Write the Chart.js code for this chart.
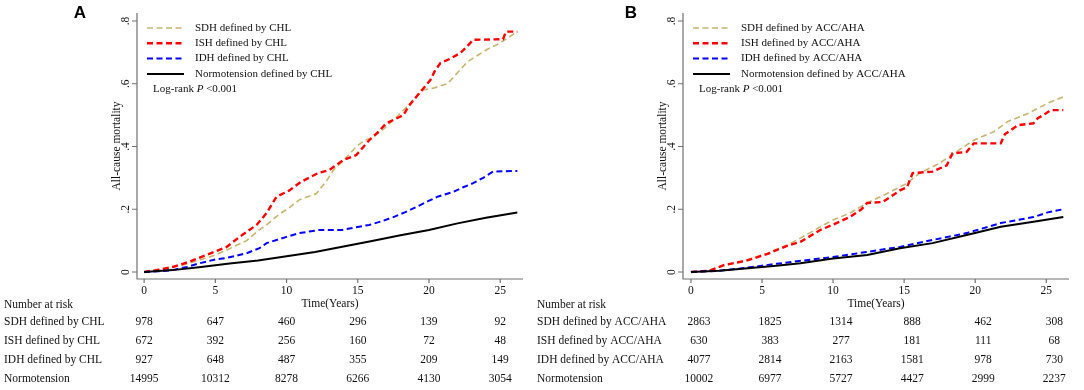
<!DOCTYPE html>
<html>
<head>
<meta charset="utf-8">
<script src="https://cdn.jsdelivr.net/npm/chart.js@4"></script>
<style>
  body { margin: 0; background: #fff; }
  #wrap { position: relative; width: 1084px; height: 390px; }
  canvas { position: absolute; top: 0; }
</style>
</head>
<body>
<div id="wrap">
  <canvas id="chartA" width="530" height="390" style="left:0"></canvas>
  <canvas id="chartB" width="554" height="390" style="left:530px"></canvas>
</div>
<script>
// ticks
const xTicks = [0, 5, 10, 15, 20, 25];
const yTicks = [0, 0.2, 0.4, 0.6, 0.8];
const yTickLabels = ['0', '.2', '.4', '.6', '.8'];

// panel A curves [years, mortality]
const sdhA = [[0,0],[0.8,0.008],[1.5,0.012],[2.7,0.022],[3.5,0.033],[4.4,0.045],[5.2,0.058],[5.8,0.07],[6.5,0.085],[7.2,0.10],[8.1,0.135],[8.6,0.15],[9.5,0.185],[10.2,0.205],[10.9,0.23],[11.5,0.24],[12.1,0.25],[12.8,0.29],[13.3,0.325],[14.1,0.36],[14.9,0.4],[15.5,0.42],[16.1,0.43],[16.8,0.455],[17.5,0.484],[18.3,0.52],[19.1,0.558],[19.6,0.58],[20.3,0.586],[21.3,0.6],[22.0,0.635],[22.7,0.67],[23.4,0.69],[24.1,0.71],[24.8,0.725],[25.5,0.745],[26.2,0.766]];
const ishA = [[0,0],[0.8,0.005],[2,0.016],[3.2,0.033],[4.4,0.055],[5.8,0.08],[6.7,0.112],[7.9,0.15],[8.6,0.188],[9.3,0.24],[10.2,0.26],[11.0,0.287],[12.2,0.315],[13.0,0.325],[14.0,0.357],[14.9,0.373],[15.8,0.42],[16.4,0.445],[17.0,0.474],[18.2,0.5],[18.6,0.53],[19.1,0.558],[19.6,0.585],[20.1,0.612],[20.4,0.64],[20.8,0.666],[21.5,0.68],[22.2,0.698],[22.7,0.72],[23.1,0.74],[25.2,0.742],[25.4,0.766],[26.2,0.766]];
const idhA = [[0,0],[1,0.002],[2,0.006],[3,0.016],[3.9,0.028],[5,0.04],[5.8,0.045],[6.5,0.052],[7.2,0.06],[8.1,0.076],[8.6,0.092],[9.3,0.102],[10,0.112],[10.9,0.124],[12.3,0.134],[13.9,0.134],[14.8,0.142],[15.8,0.15],[16.7,0.162],[17.5,0.175],[18.3,0.19],[19.1,0.207],[19.9,0.225],[20.6,0.24],[21.7,0.255],[22.4,0.27],[23.1,0.283],[23.8,0.3],[24.5,0.32],[26.2,0.322]];
const normA = [[0,0],[2,0.006],[4,0.016],[6,0.027],[8,0.037],[10,0.05],[12,0.064],[14,0.081],[16,0.099],[18,0.117],[20,0.134],[22,0.155],[24,0.173],[26.2,0.19]];

// panel B curves
const sdhB = [[0,0],[1.3,0.006],[2.3,0.02],[3.9,0.038],[5.4,0.06],[6.8,0.086],[7.7,0.108],[9.1,0.144],[10,0.166],[11.2,0.188],[12.4,0.22],[13.8,0.25],[15.2,0.283],[16.1,0.315],[17.5,0.347],[18.9,0.39],[19.9,0.42],[21.3,0.447],[22.3,0.48],[23.7,0.505],[25.1,0.538],[26.2,0.558]];
const ishB = [[0,0],[1.3,0.004],[2.3,0.022],[3.9,0.036],[5.4,0.058],[6.8,0.084],[7.7,0.096],[9.1,0.134],[10.2,0.155],[11.2,0.176],[12.0,0.2],[12.4,0.22],[13.5,0.223],[14.7,0.26],[15.2,0.27],[15.6,0.315],[17.0,0.32],[18.0,0.34],[18.4,0.378],[19.4,0.383],[19.9,0.41],[21.8,0.41],[22.1,0.44],[22.5,0.452],[23.0,0.468],[24.1,0.474],[24.4,0.49],[24.8,0.5],[25.3,0.516],[26.2,0.516]];
const idhB = [[0,0],[2,0.004],[4,0.014],[6,0.026],[8,0.037],[10,0.048],[12.4,0.064],[14.7,0.08],[17,0.102],[19.4,0.124],[21.8,0.156],[24.1,0.175],[25.1,0.19],[26.2,0.2]];
const normB = [[0,0],[2,0.004],[4,0.012],[6,0.02],[7.7,0.028],[10,0.043],[12.4,0.054],[14.7,0.076],[17,0.092],[19.4,0.118],[21.8,0.144],[24.1,0.16],[26.2,0.175]];

// legends and number at risk
const legendA = ['SDH defined by CHL', 'ISH defined by CHL', 'IDH defined by CHL', 'Normotension defined by CHL'];
const legendB = ['SDH defined by ACC/AHA', 'ISH defined by ACC/AHA', 'IDH defined by ACC/AHA', 'Normotension defined by ACC/AHA'];
const riskLabelsA = ['SDH defined by CHL', 'ISH defined by CHL', 'IDH defined by CHL', 'Normotension'];
const riskLabelsB = ['SDH defined by ACC/AHA', 'ISH defined by ACC/AHA', 'IDH defined by ACC/AHA', 'Normotension'];
const riskA = [
  [978, 647, 460, 296, 139, 92],
  [672, 392, 256, 160, 72, 48],
  [927, 648, 487, 355, 209, 149],
  [14995, 10312, 8278, 6266, 4130, 3054]
];
const riskB = [
  [2863, 1825, 1314, 888, 462, 308],
  [630, 383, 277, 181, 111, 68],
  [4077, 2814, 2163, 1581, 978, 730],
  [10002, 6977, 5727, 4427, 2999, 2237]
];

const SERIF = '"Liberation Serif", "Times New Roman", serif';

const styles = [
  { borderColor: '#c8b46e', borderWidth: 1.6, borderDash: [6, 3.5], order: 4 },
  { borderColor: '#ff0000', borderWidth: 2.4, borderDash: [6, 3.5], order: 3 },
  { borderColor: '#0000ff', borderWidth: 2, borderDash: [6, 3.5], order: 2 },
  { borderColor: '#000000', borderWidth: 2, borderDash: [], order: 1 }
];

function toXY(arr) {
  return arr.map(p => ({ x: p[0], y: p[1] }));
}

// axes, legend and risk table drawn in Stata style
const kmPlugin = {
  id: 'km',
  afterDraw(chart, args, o) {
    const ctx = chart.ctx;
    const xs = chart.scales.x, ys = chart.scales.y;
    const a = chart.chartArea;
    ctx.save();

    ctx.strokeStyle = '#707070';
    ctx.lineWidth = 1.2;
    ctx.setLineDash([]);
    ctx.beginPath();
    ctx.moveTo(a.left, a.top); ctx.lineTo(a.left, a.bottom); ctx.lineTo(a.right, a.bottom);
    yTicks.forEach(v => { const p = ys.getPixelForValue(v); ctx.moveTo(a.left - 5, p); ctx.lineTo(a.left, p); });
    xTicks.forEach(v => { const p = xs.getPixelForValue(v); ctx.moveTo(p, a.bottom); ctx.lineTo(p, a.bottom + 4); });
    ctx.stroke();

    ctx.fillStyle = '#111';
    ctx.font = '11.5px ' + SERIF;
    ctx.textBaseline = 'middle';
    ctx.textAlign = 'center';
    yTicks.forEach((v, i) => {
      ctx.save();
      ctx.translate(a.left - 11, ys.getPixelForValue(v));
      ctx.rotate(-Math.PI / 2);
      ctx.fillText(yTickLabels[i], 0, 0);
      ctx.restore();
    });
    ctx.save();
    ctx.translate(a.left - 20, (a.top + a.bottom) / 2);
    ctx.rotate(-Math.PI / 2);
    ctx.fillText('All-cause mortality', 0, 0);
    ctx.restore();

    xTicks.forEach(v => ctx.fillText(String(v), xs.getPixelForValue(v), a.bottom + 12));
    ctx.fillText('Time(Years)', (a.left + a.right) / 2, a.bottom + 25);

    // number at risk
    ctx.textAlign = 'left';
    ctx.fillText('Number at risk', o.tableX, 305);
    o.riskLabels.forEach((lab, r) => {
      const yy = 322 + r * 19;
      ctx.textAlign = 'left';
      ctx.fillText(lab, o.tableX, yy);
      ctx.textAlign = 'center';
      o.risk[r].forEach((n, i) => ctx.fillText(String(n), xs.getPixelForValue(xTicks[i]) + o.numShift, yy));
    });

    // legend
    ctx.font = '11px ' + SERIF;
    ctx.textAlign = 'left';
    chart.data.datasets.forEach((ds, i) => {
      const yy = a.top + 15 + i * 15.3;
      ctx.strokeStyle = ds.borderColor;
      ctx.lineWidth = ds.borderWidth;
      ctx.setLineDash(ds.borderDash);
      ctx.beginPath();
      ctx.moveTo(a.left + 10, yy); ctx.lineTo(a.left + 47, yy);
      ctx.stroke();
      ctx.fillText(ds.label, a.left + 58, yy);
    });
    let lx = a.left + 16;
    const ly = a.top + 76;
    ctx.fillText('Log-rank ', lx, ly);
    lx += ctx.measureText('Log-rank ').width;
    ctx.font = 'italic 11px ' + SERIF;
    ctx.fillText('P', lx, ly);
    lx += ctx.measureText('P').width;
    ctx.font = '11px ' + SERIF;
    ctx.fillText(' <0.001', lx, ly);

    ctx.font = 'bold 17px "Liberation Sans", Arial, sans-serif';
    ctx.textAlign = 'center';
    ctx.fillStyle = '#000';
    ctx.fillText(o.letter, o.letterX, 13);
    ctx.restore();
  }
};

function makeChart(id, series, labels, xmin, pad, km) {
  const config = {
    type: 'line',
    data: {
      datasets: series.map((s, i) => Object.assign({
        label: labels[i],
        data: toXY(s),
        pointRadius: 0,
        fill: false,
        tension: 0
      }, styles[i]))
    },
    options: {
      responsive: false,
      animation: false,
      devicePixelRatio: 1,
      layout: { padding: pad },
      scales: {
        x: { type: 'linear', min: xmin, max: 26.6, display: false },
        y: { type: 'linear', min: -0.0223, max: 0.8255, display: false }
      },
      plugins: {
        legend: { display: false },
        tooltip: { enabled: false },
        km: km
      }
    },
    plugins: [kmPlugin]
  };
  return new Chart(document.getElementById(id).getContext('2d'), config);
}

makeChart('chartA', [sdhA, ishA, idhA, normA], legendA, -0.5,
  { left: 137, right: 7, top: 13, bottom: 111 },
  { letter: 'A', letterX: 80, tableX: 4, numShift: 0, riskLabels: riskLabelsA, risk: riskA });

makeChart('chartB', [sdhB, ishB, idhB, normB], legendB, -0.56,
  { left: 153, right: 15, top: 13, bottom: 111 },
  { letter: 'B', letterX: 101, tableX: 7, numShift: 8, riskLabels: riskLabelsB, risk: riskB });
</script>
</body>
</html>
